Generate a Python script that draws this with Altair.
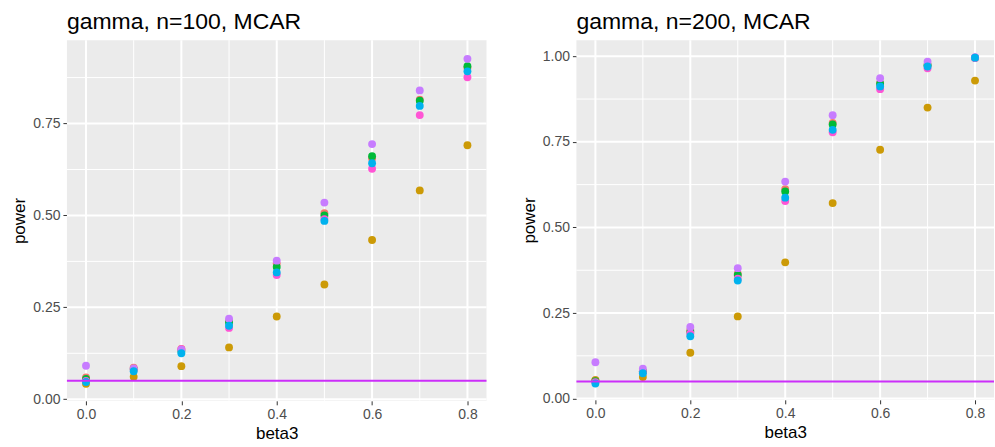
import altair as alt
import pandas as pd

# Simulated power of six tests at increasing effect size beta3
beta3 = [0.0, 0.1, 0.2, 0.3, 0.4, 0.5, 0.6, 0.7, 0.8]
methods = ["A", "B", "C", "D", "E", "F"]
palette = ["#F8766D", "#CC9A06", "#00BA38", "#FF55D5", "#C77CFF", "#00B2EE"]

# n = 100
power_100 = {
    "A": [0.059, 0.086, 0.137, 0.212, 0.369, 0.506, 0.655, 0.815, 0.902],
    "B": [0.042, 0.061, 0.090, 0.141, 0.225, 0.312, 0.433, 0.568, 0.691],
    "C": [0.055, 0.082, 0.131, 0.209, 0.360, 0.500, 0.661, 0.812, 0.906],
    "D": [0.050, 0.080, 0.136, 0.194, 0.338, 0.490, 0.627, 0.773, 0.876],
    "E": [0.091, 0.084, 0.135, 0.219, 0.377, 0.535, 0.694, 0.840, 0.926],
    "F": [0.047, 0.076, 0.125, 0.200, 0.345, 0.485, 0.642, 0.798, 0.892],
}

# n = 200
power_200 = {
    "A": [0.054, 0.080, 0.200, 0.365, 0.612, 0.805, 0.922, 0.975, 0.996],
    "B": [0.054, 0.063, 0.134, 0.240, 0.398, 0.571, 0.727, 0.850, 0.929],
    "C": [0.051, 0.079, 0.195, 0.361, 0.605, 0.801, 0.920, 0.974, 0.996],
    "D": [0.048, 0.076, 0.190, 0.350, 0.577, 0.778, 0.904, 0.965, 0.995],
    "E": [0.106, 0.087, 0.209, 0.381, 0.634, 0.828, 0.936, 0.984, 0.997],
    "F": [0.044, 0.074, 0.182, 0.345, 0.587, 0.785, 0.912, 0.970, 0.996],
}

alpha_level = 0.05
x_major = [0.0, 0.2, 0.4, 0.6, 0.8]
x_minor = [0.1, 0.3, 0.5, 0.7]

FONT = "Liberation Sans"
PANEL_BG = "#EBEBEB"


def long_table(power):
    rows = []
    for order, m in enumerate(methods):
        for b, p in zip(beta3, power[m]):
            rows.append({"beta3": b, "power": p, "method": m, "order": order})
    return pd.DataFrame(rows)


def panel(power, title, y_domain, y_major, y_minor, width, height):
    df = long_table(power)
    xs = alt.Scale(domain=[-0.04, 0.84], nice=False, zero=False)
    ys = alt.Scale(domain=y_domain, nice=False, zero=False)

    x_axis = alt.Axis(values=x_major, format=".1f", title="beta3", grid=False)
    y_axis = alt.Axis(values=y_major, format=".2f", title="power", grid=False)

    # minor then major grid lines, drawn as white rules on the grey panel
    minor_x = alt.Chart(pd.DataFrame({"v": x_minor})).mark_rule(
        color="white", strokeWidth=1
    ).encode(x=alt.X("v:Q", scale=xs, axis=x_axis))
    minor_y = alt.Chart(pd.DataFrame({"v": y_minor})).mark_rule(
        color="white", strokeWidth=1
    ).encode(y=alt.Y("v:Q", scale=ys, axis=y_axis))
    major_x = alt.Chart(pd.DataFrame({"v": x_major})).mark_rule(
        color="white", strokeWidth=2
    ).encode(x=alt.X("v:Q", scale=xs, axis=x_axis))
    major_y = alt.Chart(pd.DataFrame({"v": y_major})).mark_rule(
        color="white", strokeWidth=2
    ).encode(y=alt.Y("v:Q", scale=ys, axis=y_axis))

    pts = alt.Chart(df).mark_circle(size=62, opacity=1).encode(
        x=alt.X("beta3:Q", scale=xs, axis=x_axis),
        y=alt.Y("power:Q", scale=ys, axis=y_axis),
        color=alt.Color("method:N", scale=alt.Scale(domain=methods, range=palette),
                        legend=None),
        order=alt.Order("order:Q"),
    )

    ref = alt.Chart(pd.DataFrame({"a": [alpha_level]})).mark_rule(
        color="#CC2EFA", strokeWidth=2
    ).encode(y=alt.Y("a:Q", scale=ys, axis=y_axis))

    return alt.layer(minor_x, minor_y, major_x, major_y, pts, ref).properties(
        width=width, height=height,
        title=alt.TitleParams(title, anchor="start", frame="group", fontSize=23,
                              font=FONT, fontWeight="normal", color="black",
                              offset=5),
    )


left = panel(power_100, "gamma, n=100, MCAR", [-0.0043, 0.9767],
             [0.0, 0.25, 0.5, 0.75], [0.125, 0.375, 0.625, 0.875], 420, 361)
right = panel(power_200, "gamma, n=200, MCAR", [-0.0036, 1.047],
              [0.0, 0.25, 0.5, 0.75, 1.0], [0.125, 0.375, 0.625, 0.875], 418, 360)

chart = alt.hconcat(left, right, spacing=32).properties(
    padding={"left": 10, "top": 11, "right": 0, "bottom": 0},
    background="white",
).configure_view(
    fill=PANEL_BG, stroke=None
).configure_axis(
    labelFont=FONT, labelFontSize=14, labelColor="#4D4D4D",
    titleFont=FONT, titleFontSize=17, titleFontWeight="normal", titleColor="black",
    domain=False, tickColor="#333333", tickSize=4, tickWidth=1,
    labelPadding=3, titlePadding=4,
)

chart.save("out.html", embed_options={"renderer": "svg", "actions": False})
